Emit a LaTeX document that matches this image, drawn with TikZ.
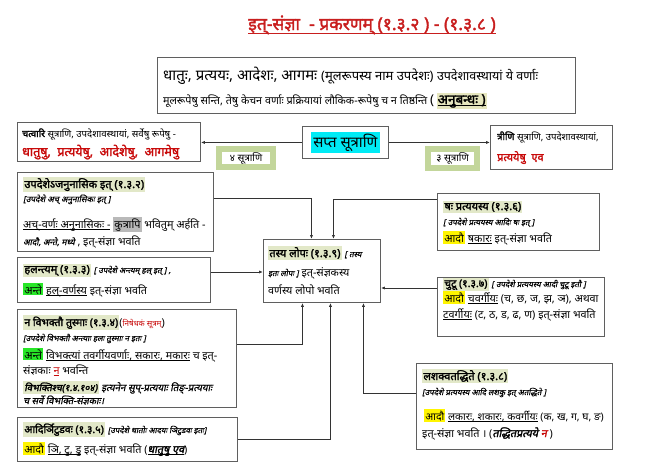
\documentclass[tikz,border=0pt]{standalone}
\usepackage{fontspec}
\setmainfont{Noto Sans}[Script=Devanagari, BoldFont={Noto Sans}, BoldFeatures={FakeBold=2}, ItalicFont={Noto Sans}, ItalicFeatures={FakeSlant=0.2,FakeBold=0.6}, BoldItalicFont={Noto Sans}, BoldItalicFeatures={FakeSlant=0.2,FakeBold=2.2}]
\usetikzlibrary{arrows.meta}
\definecolor{dred}{RGB}{200,10,10}
\definecolor{titlered}{RGB}{200,30,30}
\definecolor{olv}{RGB}{226,232,200}
\definecolor{khaki}{RGB}{230,230,190}
\definecolor{limehl}{RGB}{40,230,40}
\definecolor{yel}{RGB}{255,245,0}
\definecolor{gry}{RGB}{185,185,185}
\definecolor{cyanhl}{RGB}{0,235,245}
\definecolor{frameg}{RGB}{195,214,155}
\definecolor{bord}{RGB}{95,95,95}
\newcommand\fs[1]{\fontsize{#1}{#1}\selectfont}
\newcommand\hlbox[2]{{\setlength{\fboxsep}{1.2pt}\colorbox{#1}{#2}}}
\newcommand\ul[1]{{\setbox0\hbox{#1}\rlap{\rule[-2pt]{\wd0}{0.55pt}}\box0}}
\tikzset{
  box/.style={draw=bord, line width=0.9pt, fill=white, anchor=north west, inner sep=0pt},
  gframe/.style={draw=frameg, line width=6pt, fill=white, anchor=north west, inner sep=0pt},
  txt/.style={anchor=base west, inner sep=0pt, font=\fs{10.8}},
  conn/.style={draw=black!80, line width=0.8pt, -{Latex[length=4pt,width=3.2pt]}}
}
\begin{document}
\begin{tikzpicture}[x=1pt,y=-1pt]
\useasboundingbox (0,0) rectangle (666,471);
% title
\node[anchor=base, inner sep=0pt, font=\fs{17.5}\bfseries, text=titlered] (title) at (372,30) {इत्-संज्ञा\ \ - प्रकरणम् (१.३.२ ) - (१.३.८ )};
\draw[titlered, line width=0.9pt] ([yshift=-3pt]title.base west) -- ([yshift=-3pt]title.base east);
% boxes
\node[box, minimum width=418pt, minimum height=56pt] (top) at (157,57) {};
\node[box, minimum width=183pt, minimum height=39pt] (left) at (17,122) {};
\node[box, minimum width=86pt, minimum height=32pt] (sapta) at (302,126) {};
\node[box, minimum width=122pt, minimum height=44pt] (right) at (490,125) {};
\node[gframe, minimum width=54pt, minimum height=18pt] (g4) at (216,146) {};
\node[gframe, minimum width=49pt, minimum height=19pt] (g3) at (425,146) {};
\node[box, minimum width=196pt, minimum height=79pt] (upd) at (17,172) {};
\node[box, minimum width=193pt, minimum height=45pt] (hal) at (17,257) {};
\node[box, minimum width=219pt, minimum height=98pt] (nav) at (17,309) {};
\node[box, minimum width=220pt, minimum height=44pt] (adi) at (17,417) {};
\node[box, minimum width=117pt, minimum height=63pt] (tas) at (263,239) {};
\node[box, minimum width=162pt, minimum height=57pt] (sah) at (437,193) {};
\node[box, minimum width=167pt, minimum height=59pt] (chu) at (437,277) {};
\node[box, minimum width=196pt, minimum height=86pt] (las) at (416,363) {};
% connectors
\draw[conn] (sapta.west) -- (left.east |- sapta.west);
\draw[conn] (sapta.east) -- (right.west |- sapta.east);
\draw[conn] (upd.east |- 0,198) -| ([xshift=-10.5pt]tas.north);
\draw[conn] (sah.west |- 0,199) -| ([xshift=11.5pt]tas.north);
\draw[conn] (hal.east |- 0,272) -- (tas.west |- 0,272);
\draw[conn] (chu.west |- 0,288) -- (tas.east |- 0,288);
\draw[conn] (nav.east |- 0,344) -| ([xshift=-19.5pt]tas.south);
\draw[conn] (adi.east |- 0,439) -| ([xshift=8.5pt]tas.south);
\draw[conn] (las.west |- 0,393) -| ([xshift=41.5pt]tas.south);
% top box text
\node[txt] (tp1) at (163,80) {\fs{15}धातुः, प्रत्ययः, आदेशः, आगमः \fs{13}(मूलरूपस्य नाम उपदेशः) \fs{12.5}उपदेशावस्थायां ये वर्णाः};
\node[txt] (tp2) at (163,104) {\fs{10.8}मूलरूपेषु सन्ति, तेषु केचन वर्णाः प्रक्रियायां लौकिक-रूपेषु च न तिष्ठन्ति \fs{13.5}(\,\hlbox{khaki}{\bfseries\ul{अनुबन्धः )}}};
% left / right
\node[txt] (l1) at (22,137) {\fs{9.6}\textbf{चत्वारि} सूत्राणि, उपदेशावस्थायां, सर्वेषु रूपेषु -};
\node[txt] (l2) at (22,156) {\fs{12.5}\bfseries\color{dred}धातुषु, \ प्रत्ययेषु, \ आदेशेषु, \ आगमेषु};
\node[txt] (r1) at (497,140) {\fs{9.6}\textbf{त्रीणि} सूत्राणि, उपदेशावस्थायां,};
\node[txt] (r2) at (497,161) {\fs{11}\bfseries\color{dred}प्रत्ययेषु \ एव};
% sapta & frames
\node[fill=cyanhl, inner sep=2pt, font=\fs{15}] (saptat) at (sapta.center) {सप्त सूत्राणि};
\node[font=\fs{10}, inner sep=0pt] (g4t) at (g4.center) {४ सूत्राणि};
\node[font=\fs{10}, inner sep=0pt] (g3t) at (g3.center) {३ सूत्राणि};
% upadeshe
\node[txt] (u1) at (23,188) {\hlbox{olv}{\bfseries\fs{11}उपदेशेऽजनुनासिक इत् (१.३.२)}};
\node[txt] (u2) at (23,202) {\itshape\fs{8.3}[उपदेशे अच् अनुनासिकः इत् ]};
\node[txt] (u3) at (23,228) {\ul{अच्-वर्णः अनुनासिकः -} \hlbox{gry}{कुत्रापि} भवितुम् अर्हति -};
\node[txt] (u4) at (23,245) {{\itshape\fs{8.5}आदौ, अन्ते, मध्ये} , इत्-संज्ञा भवति};
% halantyam
\node[txt] (h1) at (23,273) {\hlbox{olv}{\bfseries\fs{11}हलन्त्यम् (१.३.३)} {\itshape\fs{8}[ उपदेशे अन्त्यम् हल् इत् ] ,}};
\node[txt] (h2) at (23,294) {\hlbox{limehl}{अन्ते} \ul{हल्-वर्णस्य} इत्-संज्ञा भवति};
% na vibhaktau
\node[txt] (n1) at (23,326) {\hlbox{olv}{\bfseries\fs{10.5}न विभक्तौ तुस्माः (१.३.४)}({\color{dred}\fs{8}निषेधकं सूत्रम्})};
\node[txt] (n2) at (23,341) {\itshape\fs{8}[उपदेशे विभक्तौ अन्त्याः हलः तुस्माः न इतः ]};
\node[txt] (n3) at (23,359) {\hlbox{limehl}{अन्ते} \ul{विभक्त्यां तवर्गीयवर्णाः, सकारः, मकारः} च इत्-};
\node[txt] (n4) at (23,374) {संज्ञकाः {\color{dred}\ul{न}} भवन्ति};
\node[txt] (n5) at (23,391) {\hlbox{olv}{\bfseries\itshape\fs{9.5}विभक्तिश्च(१.४.१०४)} {\itshape\fs{9.8}इत्यनेन सुप्-प्रत्ययाः तिङ्-प्रत्ययाः}};
\node[txt] (n6) at (23,404) {\itshape\fs{9.5}च सर्वे विभक्ति-संज्ञकाः।};
% adir
\node[txt] (a1) at (23,433) {\hlbox{olv}{\bfseries\fs{10.5}आदिर्ञिटुडवः (१.३.५)} {\itshape\fs{8}[उपदेशे धातोः आदयः ञिटुडवः इतः]}};
\node[txt] (a2) at (23,453) {\hlbox{yel}{आदौ} \ul{ञि, टु, डु} इत्-संज्ञा भवति (\ul{\bfseries\itshape धातुषु एव})};
% tasya
\node[txt] (t1) at (268,257) {\hlbox{olv}{\bfseries\fs{11}तस्य लोपः (१.३.९)} {\itshape\fs{8}[ तस्य}};
\node[txt] (t2) at (268,276) {{\itshape\fs{8}इतः लोपः ]} इत्-संज्ञकस्य};
\node[txt] (t3) at (268,294) {वर्णस्य लोपो भवति};
% sah
\node[txt] (s1) at (443,210) {\hlbox{olv}{\bfseries\fs{11}षः प्रत्ययस्य (१.३.६)}};
\node[txt] (s2) at (443,225) {\itshape\fs{8}[ उपदेशे प्रत्ययस्य आदिः षः इत् ]};
\node[txt] (s3) at (443,242) {\hlbox{yel}{आदौ} \ul{षकारः} इत्-संज्ञा भवति};
% chutu
\node[txt] (c1) at (443,287) {\hlbox{olv}{\bfseries\fs{10.5}चुटू (१.३.७)} {\itshape\fs{8}[ उपदेशे प्रत्ययस्य आदी चुटू इतौ ]}};
\node[txt] (c2) at (443,302) {\hlbox{yel}{आदौ} \ul{चवर्गीयः} (च, छ, ज, झ, ञ), अथवा};
\node[txt] (c3) at (443,318) {\ul{टवर्गीयः} (ट, ठ, ड, ढ, ण) इत्-संज्ञा भवति};
% lashakva
\node[txt] (la1) at (422,380) {\hlbox{olv}{\bfseries\fs{11}लशक्वतद्धिते (१.३.८)}};
\node[txt] (la2) at (422,395) {\itshape\fs{8}[उपदेशे प्रत्ययस्य आदि लशकु इत् अतद्धिते ]};
\node[txt] (la3) at (424,420) {\fs{10.4}\hlbox{yel}{आदौ} \ul{लकारः, शकारः, कवर्गीयः} (क, ख, ग, घ, ङ)};
\node[txt] (la4) at (422,437) {इत्-संज्ञा भवति । ({\bfseries\itshape तद्धितप्रत्यये {\color{dred}न}} )};
\end{tikzpicture}
\end{document}
